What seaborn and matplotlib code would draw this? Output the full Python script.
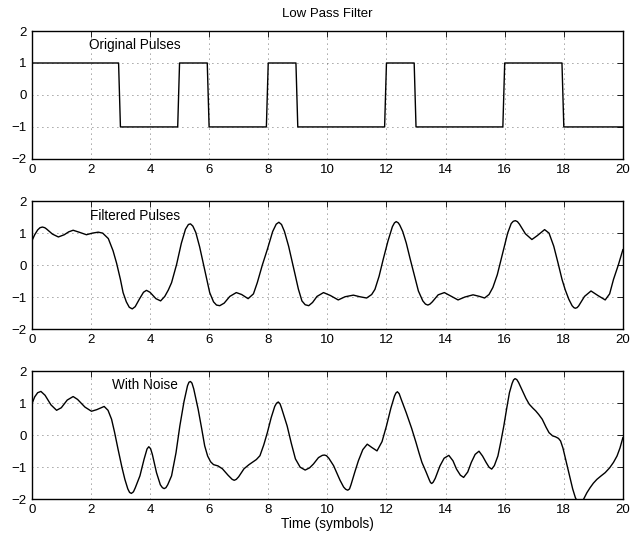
import numpy as np
import pandas as pd
import matplotlib
matplotlib.use("Agg")
import matplotlib.pyplot as plt
import seaborn as sns

# Transmitted symbols, one per unit of time
symbols = [1, 1, 1, -1, -1, 1, -1, -1, 1, -1, -1, -1, 1, -1, -1, -1, 1, 1, -1, -1]
samples_per_symbol = 16

# Low-pass filtered pulse train
filt_t = [0.0, 0.1, 0.2, 0.28, 0.36, 0.44, 0.5, 0.7, 0.9, 1.1, 1.25, 1.4, 1.6, 1.85, 2.05, 2.25, 2.4,
          2.59, 2.75, 2.87, 3.0, 3.09, 3.2, 3.3, 3.4, 3.5, 3.65, 3.78, 3.88, 4.0, 4.2, 4.36,
          4.5, 4.62, 4.73, 4.9, 5.06, 5.2, 5.3, 5.37, 5.45, 5.55, 5.68, 5.85, 6.02, 6.15,
          6.25, 6.36, 6.51, 6.7, 6.92, 7.1, 7.32, 7.5, 7.63, 7.8, 7.97, 8.15, 8.27, 8.36,
          8.45, 8.55, 8.69, 8.8, 8.92, 9.02, 9.14, 9.25, 9.37, 9.5, 9.65, 9.87, 10.1, 10.37,
          10.6, 10.88, 11.1, 11.33, 11.5, 11.61, 11.75, 11.89, 12.05, 12.2, 12.27, 12.33, 12.4, 12.45,
          12.55, 12.67, 12.8, 12.95, 13.08, 13.23, 13.32, 13.4, 13.47, 13.55, 13.75, 13.96, 14.2, 14.42,
          14.65, 14.93, 15.15, 15.32, 15.47, 15.6, 15.75, 15.88, 16.0, 16.1, 16.22, 16.29, 16.36,
          16.43, 16.5, 16.7, 16.92, 17.1, 17.35, 17.5, 17.66, 17.8, 17.94, 18.05, 18.17, 18.28,
          18.34, 18.39, 18.45, 18.5, 18.7, 18.92, 19.15, 19.4, 19.55, 19.68, 19.85, 20.0]
filt_y = [0.75, 0.95, 1.10, 1.17, 1.19, 1.17, 1.13, 0.97, 0.88, 0.95, 1.04, 1.09, 1.03, 0.95, 1.00, 1.03, 1.00,
          0.83, 0.45, 0.06, -0.45, -0.86, -1.15, -1.32, -1.37, -1.30, -1.05, -0.85, -0.79, -0.85, -1.05, -1.12,
          -0.98, -0.78, -0.55, 0.02, 0.68, 1.12, 1.27, 1.29, 1.22, 1.02, 0.57, -0.14, -0.86, -1.15,
          -1.25, -1.27, -1.19, -0.98, -0.86, -0.92, -1.05, -0.90, -0.55, 0.0, 0.49, 1.05, 1.28, 1.34,
          1.27, 1.05, 0.59, 0.15, -0.34, -0.75, -1.12, -1.24, -1.27, -1.17, -0.98, -0.86, -0.95, -1.09,
          -0.99, -0.94, -0.99, -1.03, -0.92, -0.76, -0.35, 0.18, 0.75, 1.20, 1.32, 1.36, 1.32, 1.25,
          1.05, 0.69, 0.20, -0.34, -0.81, -1.12, -1.22, -1.25, -1.22, -1.15, -0.93, -0.86, -0.98, -1.09,
          -1.00, -0.93, -0.98, -1.03, -0.92, -0.70, -0.30, 0.18, 0.62, 1.00, 1.30, 1.37, 1.39,
          1.36, 1.28, 0.98, 0.80, 0.92, 1.11, 1.00, 0.59, 0.08, -0.45, -0.78, -1.07, -1.27,
          -1.33, -1.35, -1.33, -1.28, -0.98, -0.81, -0.95, -1.09, -0.90, -0.45, 0.02, 0.49]

# Filtered pulse train with added noise
noisy_t = [0.0, 0.1, 0.2, 0.31, 0.45, 0.65, 0.84, 1.0, 1.2, 1.4, 1.55, 1.8, 2.02, 2.2, 2.45,
           2.58, 2.7, 2.8, 2.92, 3.05, 3.15, 3.25, 3.31, 3.37, 3.44, 3.5, 3.66, 3.8, 3.9, 3.96, 4.02, 4.08, 4.22,
           4.35, 4.42, 4.48, 4.54, 4.6, 4.73, 4.88, 5.01, 5.15, 5.27, 5.32, 5.37, 5.42, 5.48, 5.63, 5.75, 5.85, 5.95,
           6.05, 6.15, 6.3, 6.45, 6.64, 6.78, 6.85, 6.92, 7.0, 7.18, 7.35, 7.46, 7.6, 7.72, 7.85, 7.97,
           8.1, 8.22, 8.28, 8.34, 8.4, 8.45, 8.55, 8.64, 8.78, 8.92, 9.08, 9.25, 9.4, 9.53, 9.7, 9.83, 9.9,
           9.97, 10.05, 10.21, 10.33, 10.43, 10.55, 10.62, 10.69, 10.75, 10.8, 10.93, 11.05, 11.2, 11.35, 11.5,
           11.68, 11.85, 12.0, 12.15, 12.27, 12.32, 12.37, 12.43, 12.5, 12.67, 12.85, 13.0, 13.1, 13.2,
           13.34, 13.45, 13.49, 13.53, 13.58, 13.65, 13.81, 13.95, 14.11, 14.25, 14.37, 14.5, 14.61, 14.75,
           14.87, 15.0, 15.13, 15.25, 15.37, 15.47, 15.56, 15.65, 15.77, 15.87, 15.97, 16.07,
           16.16, 16.25, 16.3, 16.35, 16.41, 16.47, 16.6, 16.72, 16.83, 16.95, 17.05, 17.15, 17.27, 17.4,
           17.5, 17.62, 17.72, 17.82, 17.89, 17.97, 18.06, 18.14, 18.22, 18.3, 18.39, 18.47,
           18.55, 18.62, 18.67, 18.78, 18.89, 19.0, 19.12, 19.25, 19.4, 19.55, 19.68, 19.8,
           19.9, 20.0]
noisy_y = [0.97, 1.20, 1.33, 1.37, 1.25, 0.95, 0.78, 0.86, 1.10, 1.21, 1.12, 0.88, 0.75, 0.80, 0.90,
           0.78, 0.50, 0.10, -0.44, -1.00, -1.38, -1.68, -1.79, -1.82, -1.77, -1.65, -1.27, -0.75, -0.43, -0.36, -0.42, -0.60, -1.17,
           -1.55, -1.64, -1.67, -1.64, -1.55, -1.27, -0.55, 0.29, 1.05, 1.55, 1.66, 1.68, 1.63, 1.45, 0.81, 0.20, -0.33, -0.65,
           -0.83, -0.92, -0.96, -1.05, -1.25, -1.38, -1.41, -1.38, -1.30, -1.05, -0.92, -0.85, -0.76, -0.64, -0.30, 0.08,
           0.55, 0.90, 1.00, 1.04, 0.98, 0.85, 0.55, 0.29, -0.25, -0.74, -1.00, -1.09, -1.02, -0.90, -0.70, -0.63, -0.62,
           -0.64, -0.72, -0.95, -1.20, -1.41, -1.62, -1.69, -1.72, -1.68, -1.55, -1.15, -0.80, -0.45, -0.28, -0.38,
           -0.49, -0.20, 0.29, 0.85, 1.22, 1.32, 1.36, 1.30, 1.12, 0.70, 0.22, -0.23, -0.55, -0.85,
           -1.15, -1.40, -1.48, -1.51, -1.47, -1.35, -0.96, -0.72, -0.63, -0.80, -1.06, -1.25, -1.32, -1.15,
           -0.85, -0.60, -0.50, -0.65, -0.85, -1.00, -1.06, -0.95, -0.65, -0.20, 0.29, 0.85,
           1.33, 1.62, 1.73, 1.77, 1.74, 1.65, 1.39, 1.15, 0.97, 0.85, 0.76, 0.65, 0.50, 0.25,
           0.08, -0.02, -0.05, -0.10, -0.18, -0.40, -0.75, -1.05, -1.38, -1.68, -1.95, -2.10,
           -2.12, -2.06, -2.00, -1.80, -1.64, -1.50, -1.38, -1.28, -1.17, -1.02, -0.85, -0.65,
           -0.40, -0.07]

panel_labels = ["Original Pulses", "Filtered Pulses", "With Noise"]
x_ticks = list(range(0, 21, 2))
y_ticks = [-2, -1, 0, 1, 2]

# Sampled rectangular pulse train
pulse_t = [k + j / samples_per_symbol for k in range(len(symbols)) for j in range(samples_per_symbol)]
pulse_y = [s for s in symbols for _ in range(samples_per_symbol)]
pulse_t.append(float(len(symbols)))
pulse_y.append(symbols[-1])

frames = [
    pd.DataFrame({"t": pulse_t, "v": pulse_y}),
    pd.DataFrame({"t": filt_t, "v": filt_y}),
    pd.DataFrame({"t": noisy_t, "v": noisy_y}),
]

sns.set_theme(style="white")
plt.rcParams["font.family"] = ["Liberation Sans", "DejaVu Sans"]
plt.rcParams["axes.unicode_minus"] = True
plt.rcParams["text.color"] = "black"
plt.rcParams["axes.labelcolor"] = "black"
plt.rcParams["axes.titlecolor"] = "black"

fig = plt.figure(figsize=(6.35, 5.35), dpi=100)
left, width, height = 0.050, 0.931, 0.239
bottoms = [0.703, 0.385, 0.067]
label_pos = [(1.95, 1.55), (1.98, 1.55), (2.70, 1.58)]

for i, (df, name, bottom) in enumerate(zip(frames, panel_labels, bottoms)):
    ax = fig.add_axes([left, bottom, width, height])
    sns.lineplot(data=df, x="t", y="v", ax=ax, color="black", linewidth=1.0,
                 estimator=None, sort=False)
    ax.set_xlim(0, 20)
    ax.set_ylim(-2, 2)
    ax.set_xticks(x_ticks)
    ax.set_yticks(y_ticks)
    ax.set_xlabel("")
    ax.set_ylabel("")
    ax.grid(True, linestyle=(0, (1, 5)), color="#444444", linewidth=0.6)
    ax.tick_params(direction="in", length=4, width=0.6, top=True, right=True,
                   labelsize=9.5, colors="black", pad=3.5)
    for sp in ax.spines.values():
        sp.set_visible(True)
        sp.set_color("black")
        sp.set_linewidth(1.0)
    ax.text(label_pos[i][0], label_pos[i][1], name, fontsize=9.8, va="center",
            ha="left", color="black")
    if i == 0:
        ax.set_title("Low Pass Filter", fontsize=9.5, pad=10, color="black")
    if i == 2:
        ax.set_xlabel("Time (symbols)", fontsize=9.8, labelpad=1, color="black")

fig.savefig("out.png", dpi=100)
